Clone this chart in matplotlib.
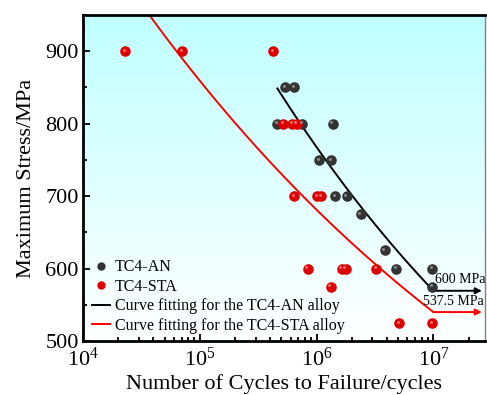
"""S-N curves for TC4-AN and TC4-STA alloys."""
import numpy as np
import matplotlib
matplotlib.use("Agg")
import matplotlib.pyplot as plt
import matplotlib.ticker as ticker
from matplotlib.colors import LinearSegmentedColormap
from matplotlib.transforms import offset_copy
from matplotlib.lines import Line2D

plt.rcParams["font.family"] = ["Liberation Serif", "DejaVu Serif"]
plt.rcParams["mathtext.fontset"] = "stix"

# ── data ─────────────────────────────────────────────────────────────────────
an_cycles = [5.4e5, 6.4e5, 4.6e5, 7.5e5, 1.37e6, 1.05e6, 1.33e6,
             1.44e6, 1.81e6, 2.39e6, 3.83e6, 4.8e6, 9.8e6, 9.8e6]
an_stress = [850, 850, 800, 800, 800, 750, 750,
             700, 700, 675, 625, 600, 600, 575]

sta_cycles = [2.3e4, 7.1e4, 4.27e5, 5.2e5, 6.2e5, 6.77e5, 6.45e5,
              1.01e6, 1.09e6, 8.4e5, 1.64e6, 1.77e6, 3.25e6, 1.32e6,
              5.08e6, 9.8e6]
sta_stress = [900, 900, 900, 800, 800, 800, 700,
              700, 700, 600, 600, 600, 600, 575,
              525, 525]

# Basquin fits S = A * (N/N0)**b
an_fit = {"A": 848.6, "N0": 4.62e5, "b": -0.1298, "N_end": 1e7}
sta_fit = {"A": 950.0, "N0": 3.7e4, "b": -0.1009, "N_end": 1e7}
arrow_end = 2.6e7

# ── plot ─────────────────────────────────────────────────────────────────────
fig = plt.figure(figsize=(4.87, 3.95), dpi=100)
ax = fig.add_axes([0.1704, 0.1367, 0.8256, 0.8253])
ax.set_xscale("log")
ax.set_xlim(1e4, 2.77e7)
ax.set_ylim(500, 950)

# cyan-to-white background gradient
grad = np.linspace(0, 1, 256).reshape(-1, 1)
bg = LinearSegmentedColormap.from_list("bg", ["#ffffff", "#c0ffff"])
ax.imshow(grad, extent=[0, 1, 0, 1], transform=ax.transAxes, aspect="auto",
          cmap=bg, origin="lower", zorder=0)


def basquin(p):
    n = np.logspace(np.log10(p["N0"]), np.log10(p["N_end"]), 100)
    return n, p["A"] * (n / p["N0"]) ** p["b"]


for p, col in [(an_fit, "black"), (sta_fit, "red")]:
    n, s = basquin(p)
    ax.plot(n, s, color=col, lw=1.4, zorder=2)
    ax.annotate("", xy=(arrow_end, s[-1]), xytext=(n[-1], s[-1]),
                arrowprops=dict(arrowstyle="-|>", color=col, lw=1.4,
                                mutation_scale=9, shrinkA=0, shrinkB=0),
                zorder=2)


def spheres(x, y, base, light):
    ax.plot(x, y, "o", ms=6.6, color=base, mec=base, zorder=3, ls="none")
    hl = offset_copy(ax.transData, fig=fig, x=-1.0, y=1.0, units="points")
    ax.plot(x, y, "o", ms=2.2, color=light, mec="none", zorder=4, ls="none",
            transform=hl, alpha=0.8)


spheres(an_cycles, an_stress, "#333333", "#9a9a9a")
spheres(sta_cycles, sta_stress, "#dd0000", "#ff8080")

ax.text(1.04e7, 576, "600 MPa", fontsize=10, ha="left", va="bottom", zorder=5)
ax.text(8.1e6, 545, "537.5 MPa", fontsize=10, ha="left", va="bottom", zorder=5)

ax.yaxis.set_major_locator(ticker.MultipleLocator(100))
ax.yaxis.set_minor_locator(ticker.MultipleLocator(50))
ax.xaxis.set_major_locator(ticker.LogLocator(base=10, numticks=10))
ax.xaxis.set_minor_locator(ticker.LogLocator(base=10, subs=np.arange(2, 10),
                                             numticks=20))
ax.xaxis.set_minor_formatter(ticker.NullFormatter())
ax.tick_params(which="both", direction="in", top=False, right=False,
               labelsize=16, width=1.3)
ax.tick_params(which="major", length=5)
ax.tick_params(which="minor", length=3)
ax.tick_params(axis="x", pad=5)
ax.tick_params(axis="y", pad=3)

for side in ["left", "bottom", "top"]:
    ax.spines[side].set_linewidth(2)
ax.spines["right"].set_color("#808080")
ax.spines["right"].set_linewidth(1)

ax.set_xlabel("Number of Cycles to Failure/cycles", fontsize=16, labelpad=2)
ax.set_ylabel("Maximum Stress/MPa", fontsize=16, labelpad=7)

handles = [
    Line2D([], [], marker="o", ls="none", color="#333333", ms=5),
    Line2D([], [], marker="o", ls="none", color="#dd0000", ms=5),
    Line2D([], [], color="black", lw=1.4),
    Line2D([], [], color="red", lw=1.4),
]
labels = ["TC4-AN", "TC4-STA", "Curve fitting for the TC4-AN alloy",
          "Curve fitting for the TC4-STA alloy"]
ax.legend(handles, labels, loc="lower left", bbox_to_anchor=(-0.005, -0.012),
          frameon=False, fontsize=11.5, handlelength=1.1, handletextpad=0.3,
          labelspacing=0.22, borderaxespad=0.3)

fig.savefig("out.png", dpi=100)
